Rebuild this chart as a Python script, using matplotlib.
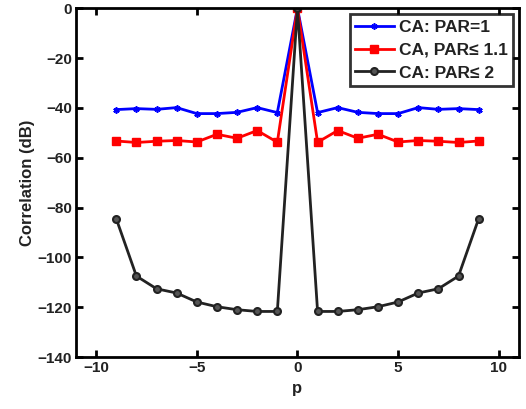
import numpy as np
import matplotlib
matplotlib.use("Agg")
import matplotlib.pyplot as plt

plt.rcParams["font.family"] = ["Liberation Sans", "DejaVu Sans"]
plt.rcParams["font.weight"] = "bold"

# shift index p and correlation values (dB)
p = list(range(-9, 10))
par_1 = [-40.7, -40.3, -40.6, -39.9, -42.3, -42.3, -41.8, -39.9, -41.9, 0.0,
         -41.9, -39.9, -41.8, -42.3, -42.3, -39.9, -40.6, -40.3, -40.7]
par_11 = [-53.3, -53.9, -53.4, -53.1, -53.7, -50.6, -52.2, -49.1, -53.8, 0.0,
          -53.8, -49.1, -52.2, -50.6, -53.7, -53.1, -53.4, -53.9, -53.3]
par_2 = [-84.5, -107.5, -112.6, -114.3, -117.9, -119.8, -121.0, -121.7, -121.7, 0.0,
         -121.7, -121.7, -121.0, -119.8, -117.9, -114.3, -112.6, -107.5, -84.5]

fig = plt.figure(figsize=(5.26, 4.09), dpi=100)
ax = fig.add_axes([0.1445, 0.127, 0.842, 0.853])

ax.plot(p, par_1, color="#0000ff", lw=2, marker=(6, 2, 0), ms=4.5, mew=1.2,
        label="CA: PAR=1")
ax.plot(p, par_11, color="#ff0000", lw=2, marker="s", ms=6,
        label="CA, PAR\u2264 1.1")
ax.plot(p, par_2, color="#222222", lw=2, marker="o", ms=5, mfc="#555555",
        mec="#222222", mew=1.5, label="CA: PAR\u2264 2")

ax.set_xlim(-11, 11)
ax.set_ylim(-140, 0)
ax.set_xticks([-10, -5, 0, 5, 10])
ax.set_yticks(np.arange(-140, 1, 20))
ax.set_xlabel("p", fontsize=12, fontweight="bold", labelpad=4,
              color="#222222")
ax.set_ylabel("Correlation (dB)", fontsize=12, fontweight="bold", labelpad=2,
              color="#222222")
ax.tick_params(direction="in", length=5, width=2, labelsize=11,
               top=True, right=True, pad=3, labelcolor="#222222")
for lab in ax.get_xticklabels() + ax.get_yticklabels():
    lab.set_fontweight("bold")
for s in ax.spines.values():
    s.set_linewidth(2)

leg = ax.legend(loc="upper right", fontsize=12.5, frameon=True, fancybox=False,
                edgecolor="black", handlelength=2.2, handletextpad=0.3,
                borderpad=0.3, labelspacing=0.45, borderaxespad=0.35)
leg.get_frame().set_linewidth(2)
for t in leg.get_texts():
    t.set_fontweight("bold")
    t.set_color("#222222")

fig.savefig("out.png", dpi=100)
